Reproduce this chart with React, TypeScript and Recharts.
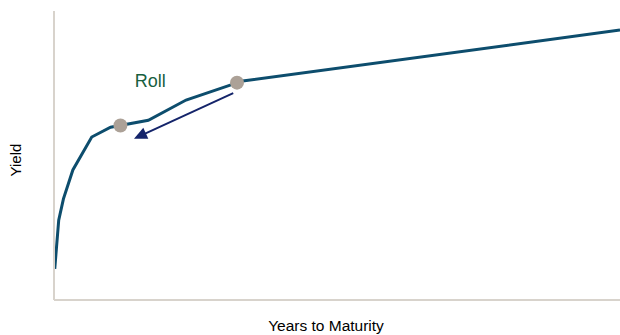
import { LineChart, Line, XAxis, YAxis, ReferenceDot, ReferenceLine, Label } from "recharts";

// yield curve, x in years, y in %
const maturities = [0.04, 0.25, 0.5, 1, 2, 3, 5, 7, 10, 30];
const yields = [0.54, 1.38, 1.75, 2.25, 2.82, 2.99, 3.11, 3.46, 3.79, 4.67];

// roll-down points and annotation
const rollPoints = [
  { x: 3.52, y: 3.02 },
  { x: 9.7, y: 3.76 },
];
const rollArrow = [
  { x: 9.5, y: 3.58 },
  { x: 4.24, y: 2.79 },
];
const rollLabel = { x: 5.1, y: 3.79, text: "Roll" };

const data = maturities.map((m, i) => ({ m, y: yields[i] }));

const AXIS = "#d8d3cc";
const CURVE = "#0d4d6d";
const FONT = "'Liberation Sans', Arial, sans-serif";

const Arrow = (props: any) => {
  const { x1, y1, x2, y2 } = props;
  const dx = x2 - x1;
  const dy = y2 - y1;
  const len = Math.sqrt(dx * dx + dy * dy);
  const ux = dx / len;
  const uy = dy / len;
  const head = 13;
  const half = 6;
  const bx = x2 - ux * head;
  const by = y2 - uy * head;
  return (
    <g>
      <line x1={x1} y1={y1} x2={bx + ux * 2} y2={by + uy * 2} stroke="#14246a" strokeWidth={2} />
      <polygon
        points={`${x2},${y2} ${bx - uy * half},${by + ux * half} ${bx + uy * half},${by - ux * half}`}
        fill="#14246a"
      />
    </g>
  );
};

export default function App() {
  return (
    <div style={{ position: "absolute", left: 0, top: 0, width: 620, height: 335, overflow: "hidden", background: "#fff" }}>
      <LineChart width={620} height={335} data={data} margin={{ top: 11, right: 0, bottom: 0, left: 0 }}>
        <XAxis
          dataKey="m"
          type="number"
          domain={[0, 30]}
          tick={false}
          tickLine={false}
          axisLine={{ stroke: AXIS, strokeWidth: 2 }}
          height={35}
        >
          <Label
            content={() => (
              <text
                x={326}
                y={325}
                textAnchor="middle"
                dominantBaseline="central"
                style={{ fontFamily: FONT, fontSize: 15.5, fill: "#000" }}
              >
                Years to Maturity
              </text>
            )}
          />
        </XAxis>
        <YAxis
          type="number"
          domain={[0, 5]}
          tick={false}
          tickLine={false}
          axisLine={{ stroke: AXIS, strokeWidth: 2 }}
          width={54}
        >
          <Label
            content={() => (
              <text
                x={15}
                y={160}
                transform="rotate(-90 15 160)"
                textAnchor="middle"
                dominantBaseline="central"
                style={{ fontFamily: FONT, fontSize: 15, fill: "#000" }}
              >
                Yield
              </text>
            )}
          />
        </YAxis>
        <Line
          type="linear"
          dataKey="y"
          stroke={CURVE}
          strokeWidth={3}
          dot={false}
          activeDot={false}
          isAnimationActive={false}
        />
        <ReferenceLine
          segment={rollArrow}
          shape={(p: any) => <Arrow {...p} />}
        />
        {rollPoints.map((p, i) => (
          <ReferenceDot key={i} x={p.x} y={p.y} r={7} fill="#aca197" stroke="none" />
        ))}
        <ReferenceDot x={rollLabel.x} y={rollLabel.y} r={0} fill="none" stroke="none">
          <Label
            value={rollLabel.text}
            position="center"
            style={{ fontFamily: FONT, fontSize: 18, fill: "#17603f" }}
          />
        </ReferenceDot>
      </LineChart>
    </div>
  );
}
